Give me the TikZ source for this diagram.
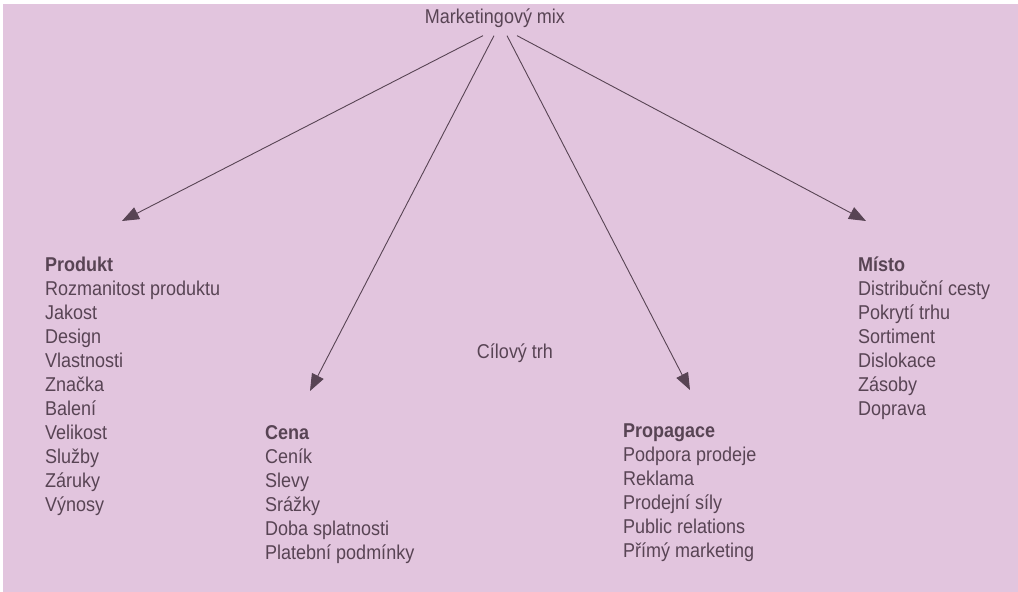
\documentclass[tikz,border=0pt]{standalone}
\usepackage{fontspec}
\setmainfont{Liberation Sans}[FakeStretch=0.9]
\usetikzlibrary{positioning,arrows.meta}
\definecolor{paper}{RGB}{226,197,222}
\definecolor{ink}{RGB}{88,68,84}

\begin{document}
\begin{tikzpicture}[
  x=1pt, y=-1pt,
  font=\fontsize{20}{24}\selectfont, text=ink,
  col/.style={anchor=north west, inner sep=0pt, align=left},
  arr/.style={draw=ink, line width=0.9pt, -{Triangle[length=17pt,width=13pt]}},
]
\useasboundingbox (0,0) rectangle (1018,592);
\fill[white] (0,0) rectangle (1018,592);
\fill[paper] (3,4) rectangle (1018,592);

\node[inner xsep=0pt, inner ysep=8pt] (mix) at (495,18) {Marketingový mix};
\node[inner sep=0pt] (trh) at (515,353) {Cílový trh};

\node[col] (produkt) at (45,257) {\textbf{Produkt}\\Rozmanitost produktu\\Jakost\\Design\\Vlastnosti\\Značka\\Balení\\Velikost\\Služby\\Záruky\\Výnosy};
\node[col] (cena) at (265,425) {\textbf{Cena}\\Ceník\\Slevy\\Srážky\\Doba splatnosti\\Platební podmínky};
\node[col] (propagace) at (623,424) {\textbf{Propagace}\\Podpora prodeje\\Reklama\\Prodejní síly\\Public relations\\Přímý marketing};
\node[col] (misto) at (858,257) {\textbf{Místo}\\Distribuční cesty\\Pokrytí trhu\\Sortiment\\Dislokace\\Zásoby\\Doprava};

\draw[arr] ([xshift=-12pt]mix.south) -- ([shift={(77pt,36pt)}]produkt.north west);
\draw[arr] ([xshift=-1pt]mix.south) -- ([shift={(45pt,34pt)}]cena.north west);
\draw[arr] ([xshift=12pt]mix.south) -- ([shift={(67pt,34pt)}]propagace.north west);
\draw[arr] ([xshift=22pt]mix.south) -- ([shift={(8pt,36pt)}]misto.north west);
\end{tikzpicture}
\end{document}
